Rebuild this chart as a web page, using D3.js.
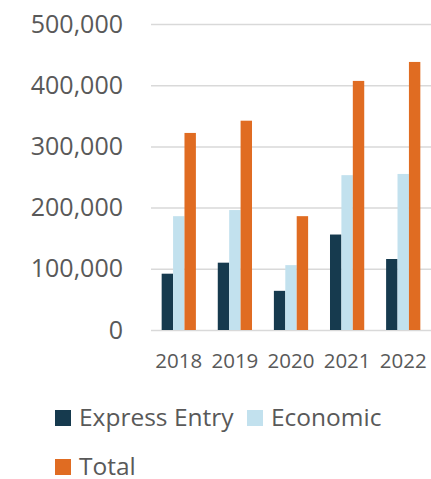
<!DOCTYPE html>
<html>
<head>
<meta charset="utf-8">
<script src="https://cdn.jsdelivr.net/npm/d3@7"></script>
<style>
  body { margin: 0; background: #fff; }
  svg text { font-family: 'Open Sans', sans-serif; fill: #595959; }
</style>
</head>
<body>
<div id="chart"></div>
<script>
const years = ['2018', '2019', '2020', '2021', '2022']
const seriesNames = ['Express Entry', 'Economic', 'Total']
const expressEntry = [92000, 110000, 64000, 156000, 116000]
const economic = [186000, 196000, 106000, 253000, 255000]
const total = [322000, 342000, 186000, 407000, 438000]
const yTicks = [0, 100000, 200000, 300000, 400000, 500000]
const colors = ['#163a4e', '#c2e1ee', '#e06c22']

const width = 431
const height = 479
const margin = { top: 24, right: 0, bottom: 149, left: 151 }
const innerW = width - margin.left - margin.right
const innerH = height - margin.top - margin.bottom

const rows = years.map((yr, i) => ({ year: yr, values: [expressEntry[i], economic[i], total[i]] }))

const svg = d3.select('#chart').append('svg').attr('width', width).attr('height', height)
const g = svg.append('g').attr('transform', `translate(${margin.left},${margin.top})`)

const x0 = d3.scaleBand().domain(years).range([0, innerW]).paddingInner(0.39).paddingOuter(0.19)
const x1 = d3.scaleBand().domain(seriesNames).range([0, x0.bandwidth()])
const y = d3.scaleLinear().domain([0, 500000]).range([innerH, 0])

// gridlines
g.append('g')
  .call(d3.axisLeft(y).tickValues(yTicks).tickSize(-innerW).tickFormat(''))
  .call((s) => s.select('.domain').remove())
  .selectAll('.tick line')
  .attr('stroke', '#d9d9d9')
  .attr('stroke-width', 1.5)

// y labels
g.append('g')
  .call(d3.axisLeft(y).tickValues(yTicks).tickSize(0).tickPadding(28).tickFormat(d3.format(',')))
  .call((s) => s.select('.domain').remove())
  .selectAll('text')
  .style('font-size', '25px')
  .attr('fill', '#595959')

// bars
g.selectAll('.group')
  .data(rows)
  .join('g')
  .attr('class', 'group')
  .attr('transform', (d) => `translate(${x0(d.year)},0)`)
  .selectAll('rect')
  .data((d) => d.values.map((v, i) => ({ key: seriesNames[i], value: v, i })))
  .join('rect')
  .attr('x', (d) => x1(d.key))
  .attr('width', x1.bandwidth())
  .attr('y', (d) => y(d.value))
  .attr('height', (d) => innerH - y(d.value))
  .attr('fill', (d) => colors[d.i])

// x labels
g.append('g')
  .attr('transform', `translate(0,${innerH})`)
  .call(d3.axisBottom(x0).tickSize(0).tickPadding(23))
  .call((s) => s.select('.domain').remove())
  .selectAll('text')
  .style('font-size', '20.5px')
  .attr('fill', '#595959')

// legend
const legendPos = [
  { x: 55, y: 410 },
  { x: 247, y: 410 },
  { x: 55, y: 459 },
]
const legend = svg.selectAll('.legend')
  .data(seriesNames)
  .join('g')
  .attr('class', 'legend')
  .attr('transform', (d, i) => `translate(${legendPos[i].x},${legendPos[i].y})`)
legend.append('rect').attr('width', 16).attr('height', 16).attr('fill', (d, i) => colors[i])
legend.append('text')
  .attr('x', 24)
  .attr('y', 16)
  .style('font-size', '24.5px')
  .text((d) => d)
</script>
</body>
</html>
